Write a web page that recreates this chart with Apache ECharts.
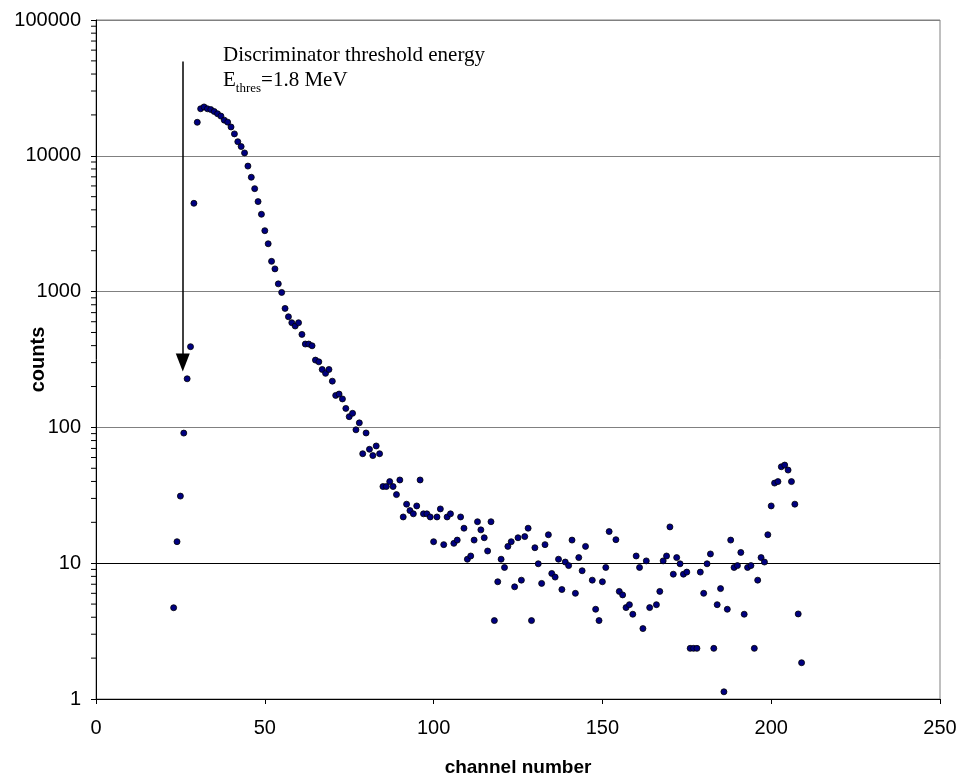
<!DOCTYPE html>
<html>
<head>
<meta charset="utf-8">
<script src="https://cdn.jsdelivr.net/npm/echarts@6/dist/echarts.min.js"></script>
<style>
html,body{margin:0;padding:0;background:#fff;}
#chart{width:963px;height:781px;}
</style>
</head>
<body>
<div id="chart"></div>
<script>
// ---- data ----
const channels = [23,24,25,26,27,28,29,30,31,32,33,34,35,36,37,38,39,40,41,42,43,44,45,46,47,48,49,50,
  51,52,53,54,55,56,57,58,59,60,61,62,63,64,65,66,67,68,69,70,71,72,73,74,75,76,77,78,79,80,
  81,82,83,84,85,86,87,88,89,90,91,92,93,94,95,96,97,98,99,100,101,102,103,104,105,106,107,108,109,110,
  111,112,113,114,115,116,117,118,119,120,121,122,123,124,125,126,127,128,129,130,131,132,133,134,135,136,137,138,139,140,
  141,142,143,144,145,147,148,149,150,151,152,154,155,156,157,158,159,160,161,162,163,164,166,167,168,169,170,
  171,172,173,174,175,176,177,178,179,180,181,182,183,184,185,186,187,188,189,190,191,192,193,194,195,196,197,198,199,200,
  201,202,203,204,205,206,207,208,209];
const counts = [4.7,14.4,31.2,90.8,228,393,4470,17650,22200,22900,22200,21900,21200,20400,19600,18300,17700,16300,14500,12700,11700,10500,8400,6950,5730,4600,3710,2810,
  2250,1670,1470,1140,986,752,653,590,558,590,484,411,411,399,313,304,267,250,267,219,172,176,162,138,120,127,96,108,64,91,
  69,62,73,64,36.7,36.7,39.9,36.7,32,41,21.9,27.2,24.4,23.1,26.4,41,23.1,23.1,21.9,14.4,21.9,25.1,13.7,21.9,23.1,14.0,14.8,21.9,18.1,10.7,
  11.3,14.8,20.2,17.6,15.4,12.3,20.2,3.78,7.3,10.7,9.3,13.3,14.4,6.7,15.4,7.5,15.7,18.1,3.78,13.0,9.9,7.1,13.7,16.2,8.4,7.9,10.7,6.4,10.2,9.6,
  14.8,6.0,11.0,8.8,13.3,7.5,4.58,3.78,7.3,9.3,17.1,14.9,6.2,5.84,4.71,4.95,4.21,11.3,9.3,3.30,10.4,4.71,4.95,6.2,10.4,11.3,18.5,
  8.3,11.0,9.9,8.3,8.6,2.36,2.36,2.36,8.6,6.0,9.9,11.7,2.36,4.95,6.5,1.13,4.58,14.8,9.3,9.6,12.0,4.21,9.3,9.6,2.36,7.5,11.0,10.2,16.2,26.4,
  38.9,39.9,51.3,52.8,48.5,39.9,27.2,4.23,1.85];
const xTicks = [0, 50, 100, 150, 200, 250];
const yTicks = [1, 10, 100, 1000, 10000, 100000];
const minorMultipliers = [2,3,4,5,6,7,8,9];
const arrowChannel = 25.7;
const arrowFrom = 49400;
const arrowTo = 300;
const annotationLine1 = 'Discriminator threshold energy';

const minorTickValues = [];
for (let k = 0; k < yTicks.length - 1; k++) {
  minorMultipliers.forEach(m => minorTickValues.push([0, m * yTicks[k]]));
}
const points = channels.map((c, i) => [c, counts[i]]);

const chart = echarts.init(document.getElementById('chart'), null, {renderer: 'canvas'});
const sans = 'Liberation Sans, Arial, sans-serif';
const serif = 'Liberation Serif, Times New Roman, serif';

chart.setOption({
  animation: false,
  backgroundColor: '#fff',
  grid: {left: 96, right: 23, top: 20, bottom: 82, show: true, borderColor: '#808080', borderWidth: 1,
    containLabel: false, outerBoundsMode: 'none'},
  xAxis: {
    type: 'value', min: xTicks[0], max: xTicks[xTicks.length - 1], interval: 50,
    name: 'channel number', nameLocation: 'middle', nameGap: 59, nameMoveOverlap: false,
    nameTextStyle: {fontFamily: sans, fontSize: 19, fontWeight: 'bold', color: '#000'},
    axisLine: {show: true, lineStyle: {color: '#000', width: 1}},
    axisTick: {show: true, length: 5, inside: false, lineStyle: {color: '#000'}},
    axisLabel: {fontFamily: sans, fontSize: 20, color: '#000', margin: 19},
    splitLine: {show: false}
  },
  yAxis: {
    type: 'log', logBase: 10, min: yTicks[0], max: yTicks[yTicks.length - 1],
    name: 'counts', nameLocation: 'middle', nameGap: 48, nameRotate: 90, nameMoveOverlap: false,
    nameTextStyle: {fontFamily: sans, fontSize: 20, fontWeight: 'bold', color: '#000'},
    axisLine: {show: true, lineStyle: {color: '#000', width: 1}},
    axisTick: {show: true, length: 5, inside: false, lineStyle: {color: '#000'}},
    axisLabel: {fontFamily: sans, fontSize: 20, color: '#000', margin: 15,
      formatter: v => String(Math.round(v))},
    splitLine: {show: true, lineStyle: {color: ['#000', '#000', '#808080', '#808080', '#808080', '#808080'], width: 1}}
  },
  series: [
    {
      type: 'scatter',
      data: points,
      symbol: 'circle',
      symbolSize: 6,
      itemStyle: {color: '#000080', borderColor: '#000', borderWidth: 0.8, opacity: 1},
      markLine: {
        silent: true,
        symbol: ['none', 'triangle'],
        symbolSize: [14, 18],
        label: {show: false},
        lineStyle: {color: '#000', width: 1.5, type: 'solid'},
        itemStyle: {color: '#000'},
        data: [[{coord: [arrowChannel, arrowFrom]}, {coord: [arrowChannel, arrowTo]}]]
      },
      z: 3
    },
    {
      type: 'custom',
      data: minorTickValues,
      clip: false,
      silent: true,
      encode: {x: 0, y: 1},
      renderItem: (params, api) => {
        const p = api.coord([api.value(0), api.value(1)]);
        return {type: 'line', shape: {x1: p[0] - 5, y1: p[1], x2: p[0], y2: p[1]},
          style: {stroke: '#000', lineWidth: 1}};
      },
      z: 1
    }
  ],
  graphic: [
    {type: 'text', left: 223, top: 45,
      style: {text: annotationLine1, fontFamily: serif, fontSize: 21, fill: '#000'}},
    {type: 'text', left: 223, top: 70,
      style: {
        text: '{m|E}{s|thres}{m|=1.8 MeV}',
        rich: {
          m: {fontFamily: serif, fontSize: 21, fill: '#000', verticalAlign: 'bottom', padding: [0, 0, 4, 0]},
          s: {fontFamily: serif, fontSize: 13, fill: '#000', verticalAlign: 'bottom'}
        }
      }}
  ]
});
</script>
</body>
</html>
